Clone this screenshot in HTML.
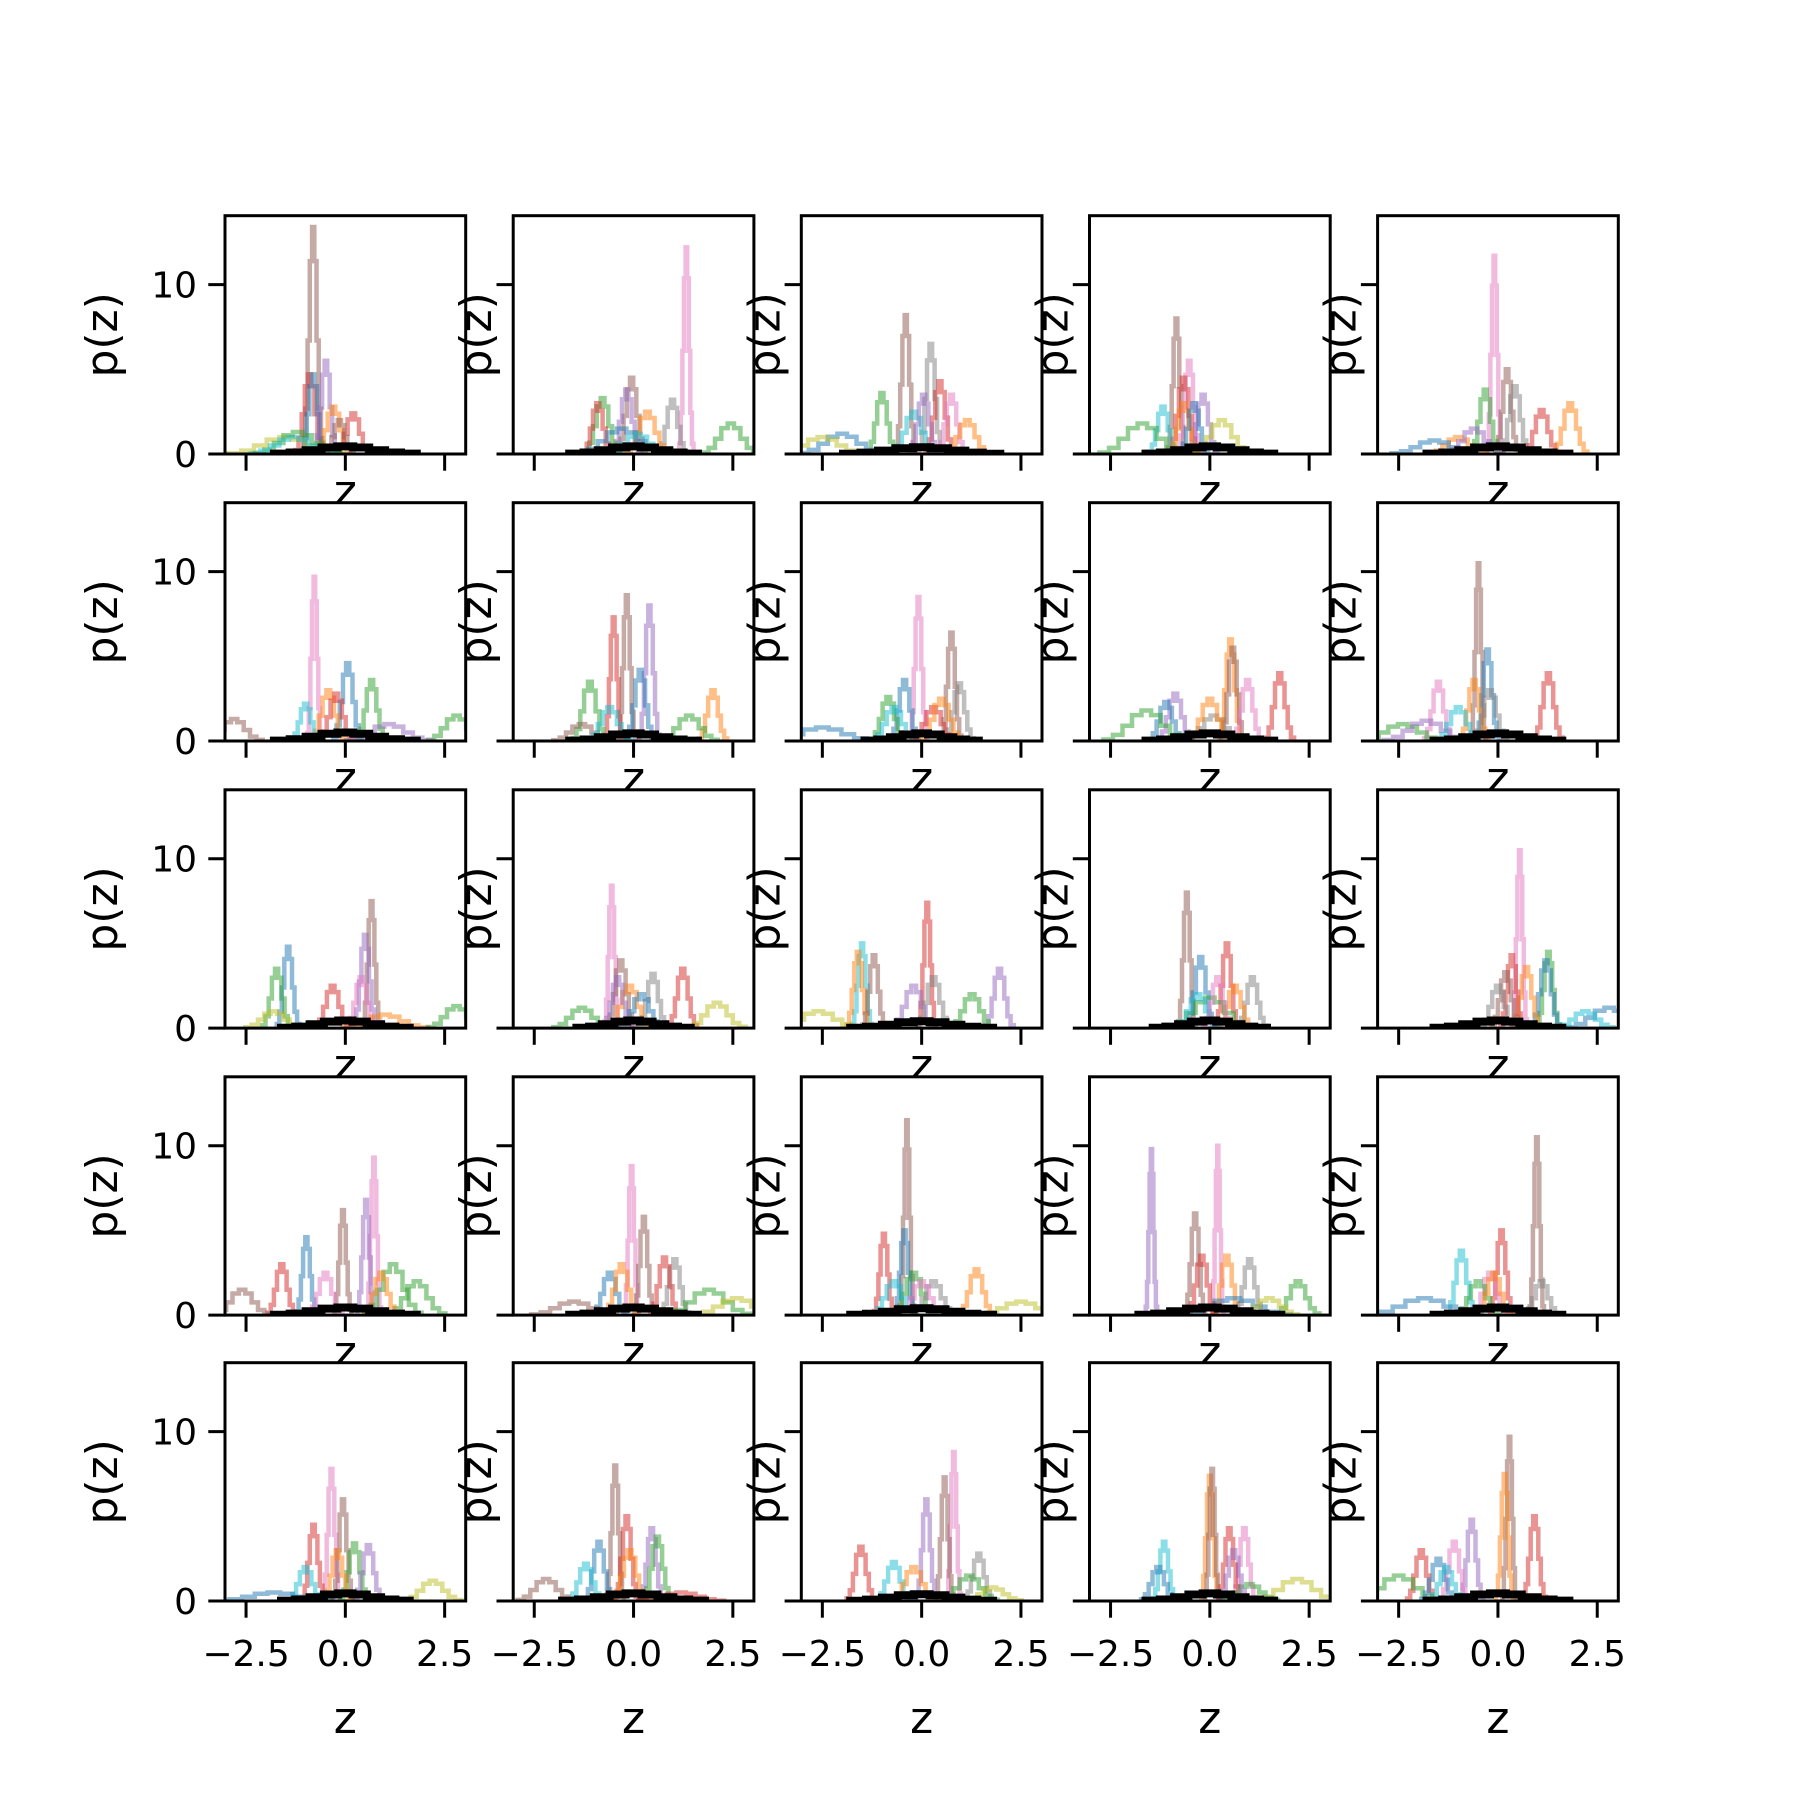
<!DOCTYPE html>
<html><head><meta charset="utf-8"><style>html,body{margin:0;padding:0;background:#fff}svg{display:block}</style></head>
<body>
<svg id="fig" width="1800" height="1800" xmlns="http://www.w3.org/2000/svg"></svg>
<script>
const xTicks = [-2.5, 0.0, 2.5];
const xTickLabels = ["\u22122.5", "0.0", "2.5"];
const yTicks = [0, 10];
const yTickLabels = ["0", "10"];
const colors = ["#1f77b4","#ff7f0e","#2ca02c","#d62728","#9467bd","#8c564b","#e377c2","#7f7f7f","#bcbd22","#17becf"];
const binProfile = [0.05,0.2,0.5,0.85,1,0.85,0.5,0.2,0.05];
// each series: [colorIndex, center z, peak p(z), width]
const panels = [
 [[5,-0.81,13.4,.07],[3,-0.9,4.7,.1],[0,-0.81,4.7,.08],[4,-0.49,5.5,.08],[1,-0.3,2.8,.12],[3,0.2,2.4,.12],[8,-1.5,1,.4],[2,-1.2,1.3,.3],[9,-1.3,1,.3],[5,-0.15,2,.1]],
 [[6,1.33,12.2,.05],[5,-0.05,4.5,.1],[4,-0.17,3.8,.1],[7,0.98,3.2,.1],[1,0.35,2.5,.15],[2,-0.78,3.3,.12],[3,-0.9,3,.1],[2,2.45,1.8,.2],[0,-0.3,1.5,.3],[9,0.1,1.2,.2]],
 [[5,-0.4,8.2,.07],[7,0.23,6.5,.08],[3,0.46,4.3,.1],[6,0.75,3.5,.1],[1,1.15,2,.15],[2,-1,3.6,.1],[0,-2,1.2,.3],[8,-2.5,1,.3],[9,-0.2,2.5,.15],[4,0.05,3.5,.1]],
 [[5,-0.84,8,.06],[6,-0.52,5.5,.08],[3,-0.66,4.5,.1],[4,-0.17,3.5,.1],[9,-1.18,2.8,.1],[2,-1.7,1.8,.3],[1,-0.66,3,.1],[0,-0.4,3,.1],[8,0.3,2,.2]],
 [[6,-0.09,11.7,.05],[5,0.23,5,.08],[2,-0.32,3.8,.1],[7,0.43,4,.1],[3,1.1,2.6,.12],[1,1.82,3,.12],[1,-1,1,.2],[0,-1.6,0.8,.3],[4,-0.6,1.5,.2]],
 [[6,-0.78,9.7,.05],[0,0.06,4.6,.1],[2,0.66,3.6,.1],[1,-0.43,3,.12],[3,-0.23,2.8,.12],[9,-1,2.2,.1],[5,-2.8,1.3,.2],[2,2.8,1.5,.2],[4,1.1,1,.3]],
 [[5,-0.17,8.6,.06],[4,0.4,8,.07],[3,-0.5,7.3,.06],[0,0.17,4.2,.1],[2,-1.1,3.5,.12],[1,2,3,.1],[2,1.4,1.5,.2],[5,-1.3,1,.2],[9,-0.6,2,.15]],
 [[6,-0.08,8.5,.06],[5,0.75,6.4,.07],[7,0.95,3.4,.1],[0,-0.43,3.6,.1],[2,-0.84,2.6,.12],[9,-0.7,2,.15],[0,-2.5,0.8,.4],[3,0.3,2,.15],[1,0.5,2.5,.15]],
 [[1,0.52,6,.08],[5,0.58,5.5,.08],[3,1.76,4,.1],[6,0.95,3.6,.1],[4,-0.87,2.8,.12],[0,-1.1,2.3,.12],[2,-1.6,1.8,.3],[7,0.1,1.5,.2],[1,0,2.5,.15]],
 [[5,-0.49,10.5,.05],[0,-0.26,5.4,.08],[1,-0.6,3.6,.1],[6,-1.5,3.5,.1],[3,1.27,4,.1],[7,-0.2,3,.12],[2,-2.4,1,.3],[4,-1.8,1.2,.3],[9,-1,2,.15]],
 [[5,0.66,7.5,.06],[4,0.5,5.5,.08],[0,-1.44,4.8,.08],[2,-1.73,3.5,.1],[3,-0.32,2.5,.12],[6,0.4,3,.1],[1,1,0.8,.3],[2,2.8,1.3,.2],[8,-1.8,1,.2]],
 [[6,-0.55,8.4,.05],[5,-0.32,4,.1],[7,0.49,3.2,.1],[3,1.24,3.5,.1],[8,2.1,1.5,.2],[2,-1.3,1.2,.2],[1,-0.1,2.5,.15],[0,0.2,2,.15],[4,-0.4,3,.1]],
 [[3,0.14,7.4,.06],[4,1.96,3.5,.1],[9,-1.5,5,.07],[1,-1.6,4.5,.08],[5,-1.2,4.3,.08],[2,1.27,2,.15],[8,-2.6,1,.3],[4,-0.2,2.5,.15],[7,0.3,3,.12]],
 [[5,-0.58,8,.06],[3,0.43,5,.08],[0,-0.23,4.2,.1],[7,1.07,3,.1],[1,0.63,2.5,.12],[2,0,1.8,.3],[9,-0.3,2,.15],[6,0.2,3,.1]],
 [[6,0.55,10.5,.05],[2,1.27,4.5,.08],[0,1.21,4,.1],[1,0.72,3.6,.1],[3,0.35,4.3,.08],[5,0.2,3.3,.1],[7,0,2.5,.12],[0,2.8,1.2,.3],[9,2.2,1,.2]],
 [[6,0.72,9.3,.05],[4,0.52,6.8,.06],[5,-0.06,6.2,.06],[0,-0.98,4.6,.07],[3,-1.6,3,.1],[5,-2.6,1.5,.2],[2,1.2,3,.2],[2,1.8,2,.2],[1,0.9,2.5,.12],[6,-0.5,2.5,.12]],
 [[6,-0.05,8.8,.05],[5,0.26,5.8,.07],[7,1.04,3.3,.1],[3,0.78,3.4,.1],[0,-0.6,2.5,.12],[2,1.9,1.5,.3],[8,2.6,1,.3],[5,-1.5,0.8,.3],[1,-0.3,3,.12]],
 [[5,-0.37,11.5,.05],[3,-0.95,4.8,.07],[0,-0.43,5,.07],[1,1.38,2.7,.12],[2,-0.2,2.5,.15],[8,2.5,0.8,.3],[9,-0.7,2,.15],[7,0.3,2,.15],[6,0,2,.15]],
 [[4,-1.47,9.8,.04],[6,0.2,10,.04],[5,-0.37,6,.07],[1,0.43,3.5,.1],[7,1,3.3,.1],[2,2.22,2,.15],[3,-0.2,3.5,.1],[0,0.6,1,.4],[8,1.5,1,.2]],
 [[5,0.98,10.5,.05],[3,0.09,5,.08],[9,-0.92,3.8,.1],[0,-1.85,1,.4],[6,-0.2,2.5,.12],[2,-0.5,2,.15],[1,-0.1,2.5,.12],[7,1.1,2,.12]],
 [[6,-0.35,7.8,.06],[5,-0.06,6,.07],[3,-0.8,4.5,.08],[2,0.23,3.4,.1],[4,0.58,3.3,.1],[9,-1,2,.12],[8,2.2,1.2,.2],[0,-1.8,0.5,.4],[1,-0.2,3,.1]],
 [[5,-0.46,8,.06],[3,-0.17,5,.08],[4,0.46,4.3,.08],[2,0.6,3.8,.1],[0,-0.87,3.5,.1],[9,-1.2,2.2,.12],[5,-2.2,1.3,.2],[1,-0.1,3,.12],[3,1.2,0.5,.3]],
 [[6,0.81,8.8,.05],[5,0.58,7.3,.06],[4,0.12,6,.07],[7,1.44,2.8,.1],[3,-1.53,3.2,.1],[9,-0.7,2.3,.12],[1,-0.2,2,.15],[2,1.2,1.5,.2],[8,1.8,0.8,.2]],
 [[1,0,7.4,.06],[5,0.06,7.8,.05],[6,0.87,4.3,.08],[3,0.49,4.3,.08],[9,-1.15,3.5,.08],[0,-1.3,2,.12],[8,2.2,1.3,.3],[2,1,1,.2],[4,0.6,3,.1]],
 [[5,0.29,9.7,.05],[1,0.17,7.5,.06],[3,0.92,5,.08],[4,-0.66,4.8,.08],[6,-1.1,3.5,.1],[3,-1.93,3,.1],[2,-2.5,1.5,.3],[0,-1.5,2.5,.12],[9,-1.3,2,.12]]
];
// black reference curve per panel: [center, peak, width]
const blackCurves = [
 [0,0.45,0.5],[0,0.45,0.45],[0,0.4,0.55],[0,0.45,0.45],[0,0.45,0.5],
 [0,0.5,0.5],[0,0.45,0.45],[0,0.45,0.4],[0,0.45,0.45],[0,0.45,0.45],
 [0,0.45,0.45],[0,0.45,0.4],[0,0.4,0.5],[0,0.45,0.4],[0,0.45,0.45],
 [0,0.45,0.5],[0,0.45,0.45],[0,0.4,0.5],[0,0.45,0.5],[0,0.45,0.45],
 [0,0.45,0.45],[0,0.45,0.5],[0,0.4,0.5],[0,0.45,0.45],[0,0.45,0.5]
];

const NS = "http://www.w3.org/2000/svg";
const svg = document.getElementById("fig");
function mk(tag, attrs, parent){const e=document.createElementNS(NS,tag);for(const k in attrs)e.setAttribute(k,attrs[k]);(parent||svg).appendChild(e);return e;}
const colLeft = [225,513.2,801.3,1089.5,1377.6];
const rowTop = [215.7,502.7,789.8,1076.8,1362.7];
const W = 240.7, H = 238.3;
const xMin=-3.03, xMax=3.03, yMin=0, yMax=14.07;
const FONT = '"DejaVu Sans","Liberation Sans",sans-serif';

for (let r=0;r<5;r++) for (let c=0;c<5;c++){
  const idx=r*5+c, L=colLeft[c], T=rowTop[r], B=T+H;
  const sx = z => L + (z-xMin)/(xMax-xMin)*W;
  const sy = v => B - (v-yMin)/(yMax-yMin)*H;
  const g = mk("g",{});
  
  
  mk("rect",{x:L,y:T,width:W,height:H,fill:"#fff"},g);
  const cp = mk("clipPath",{id:"cp"+idx},g);
  mk("rect",{x:L,y:T,width:W,height:H},cp);
  const dg = mk("g",{"clip-path":"url(#cp"+idx+")"},g);
  function stepPath(center,h,w){
    const bw = w*0.8, n=binProfile.length, start=center-bw*n/2;
    let d="M"+sx(start).toFixed(1)+","+sy(0).toFixed(1);
    for(let k=0;k<n;k++){const y=sy(h*binProfile[k]).toFixed(1);d+=" L"+sx(start+k*bw).toFixed(1)+","+y+" L"+sx(start+(k+1)*bw).toFixed(1)+","+y;}
    d+=" L"+sx(start+n*bw).toFixed(1)+","+sy(0).toFixed(1);
    return d;
  }
  panels[idx].forEach((s,si)=>{
    const p = mk("path",{d:stepPath(s[1],s[2],s[3]),fill:"none",stroke:colors[s[0]],"stroke-width":4.5,"stroke-opacity":0.5},dg);
    
    
  });
  const bc = blackCurves[idx];
  const bp = mk("path",{d:stepPath(bc[0],bc[1],bc[2]),fill:"none",stroke:"#000","stroke-width":8},dg);
  
  
  const fr = mk("rect",{x:L,y:T,width:W,height:H,fill:"none",stroke:"#000","stroke-width":3},g);
  
  
  xTicks.forEach((t,i)=>{
    mk("line",{x1:sx(t),x2:sx(t),y1:B,y2:B+16.7,stroke:"#000","stroke-width":3},g);
    if(r===4){const tx=mk("text",{x:sx(t),y:B+65,"text-anchor":"middle","font-size":36,"font-family":FONT},g);tx.textContent=xTickLabels[i];
      
      }
  });
  yTicks.forEach((t,i)=>{
    mk("line",{x1:L-16.7,x2:L,y1:sy(t),y2:sy(t),stroke:"#000","stroke-width":3},g);
    if(c===0){const ty=mk("text",{x:L-28,y:sy(t)+13,"text-anchor":"end","font-size":36,"font-family":FONT},g);ty.textContent=yTickLabels[i];
      
      }
  });
  const xl = mk("text",{x:L+W/2,y:(r===4?B+132:B+52),"text-anchor":"middle","font-size":44,"font-family":FONT},g);
  xl.textContent="z";
  
  
  const yx = c===0 ? L-108 : L-22;
  const yl = mk("text",{x:yx,y:T+H/2,"text-anchor":"middle","font-size":44,"font-family":FONT,transform:"rotate(-90 "+yx+" "+(T+H/2)+")"},g);
  yl.textContent="p(z)";
  
  
}
</script>
</body></html>
